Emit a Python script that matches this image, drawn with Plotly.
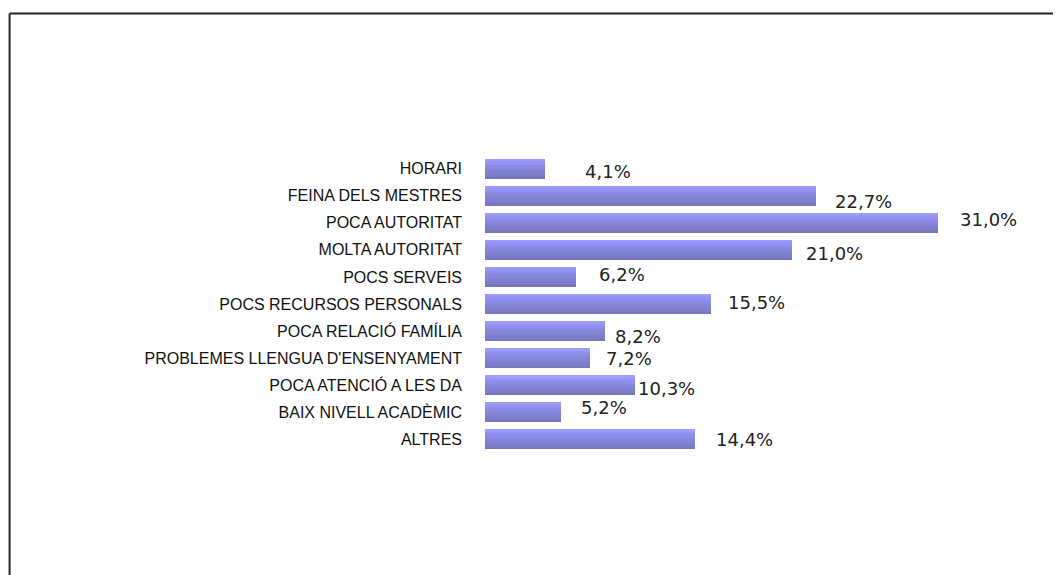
import plotly.graph_objects as go

categories = ["HORARI", "FEINA DELS MESTRES", "POCA AUTORITAT", "MOLTA AUTORITAT",
              "POCS SERVEIS", "POCS RECURSOS PERSONALS", "POCA RELACIÓ FAMÍLIA",
              "PROBLEMES LLENGUA D'ENSENYAMENT", "POCA ATENCIÓ A LES DA",
              "BAIX NIVELL ACADÈMIC", "ALTRES"]
values = [4.1, 22.7, 31.0, 21.0, 6.2, 15.5, 8.2, 7.2, 10.3, 5.2, 14.4]
value_labels = ["4,1%", "22,7%", "31,0%", "21,0%", "6,2%", "15,5%",
                "8,2%", "7,2%", "10,3%", "5,2%", "14,4%"]

# label nudges in px (the original labels sit a bit off the bar ends)
label_dx = [38, 17, 20, 12, 21, 15, 8, 14, 1, 18, 19]
label_dy = [-3, -6, 3, -4, 2, 2, -5, 0, -3, 5, 0]

# horizontal stripes to fake the bar shading, light on top
stripe_colors = ["#9d9dff", "#9494f4", "#8e8eea", "#8989e0", "#8484d8",
                 "#7f7fd0", "#7b7bc8", "#7777c0"]
bar_w = 0.74
n = len(stripe_colors)

fig = go.Figure()
for i, c in enumerate(stripe_colors):
    fig.add_trace(go.Bar(
        x=values, y=categories, orientation="h",
        width=bar_w / n, offset=-bar_w / 2 + i * bar_w / n,
        marker=dict(color=c, line=dict(width=0)),
        showlegend=False, hoverinfo="x+y"))

for k in range(len(values)):
    fig.add_annotation(x=values[k], y=categories[k], text=value_labels[k],
                       showarrow=False, xanchor="left", yanchor="middle",
                       xshift=label_dx[k], yshift=label_dy[k],
                       font=dict(family="DejaVu Sans", size=18, color="#222222"))

fig.update_xaxes(range=[0, 36.3], visible=False)
fig.update_yaxes(type="category", categoryorder="array", categoryarray=categories,
                 range=[10.5, -0.5], showgrid=False, zeroline=False, showline=False,
                 ticks="", ticklabelstandoff=22,
                 tickfont=dict(family="Liberation Sans", size=16, color="#111111"))

# chart frame (runs off the right and bottom edges like the original)
fig.add_shape(type="line", xref="paper", yref="paper", x0=-0.897, x1=1.2, y0=1.475, y1=1.475,
              line=dict(color="#222222", width=2))
fig.add_shape(type="line", xref="paper", yref="paper", x0=-0.897, x1=-0.897, y0=1.475, y1=-0.6,
              line=dict(color="#222222", width=2))

# page body has an 8px margin, so the plot area is shifted up/left by 8px
fig.update_layout(width=1061, height=575, barmode="overlay", bargap=0,
                  margin=dict(l=477, r=54, t=147, b=130),
                  paper_bgcolor="white", plot_bgcolor="white")

fig.write_html("out.html")
